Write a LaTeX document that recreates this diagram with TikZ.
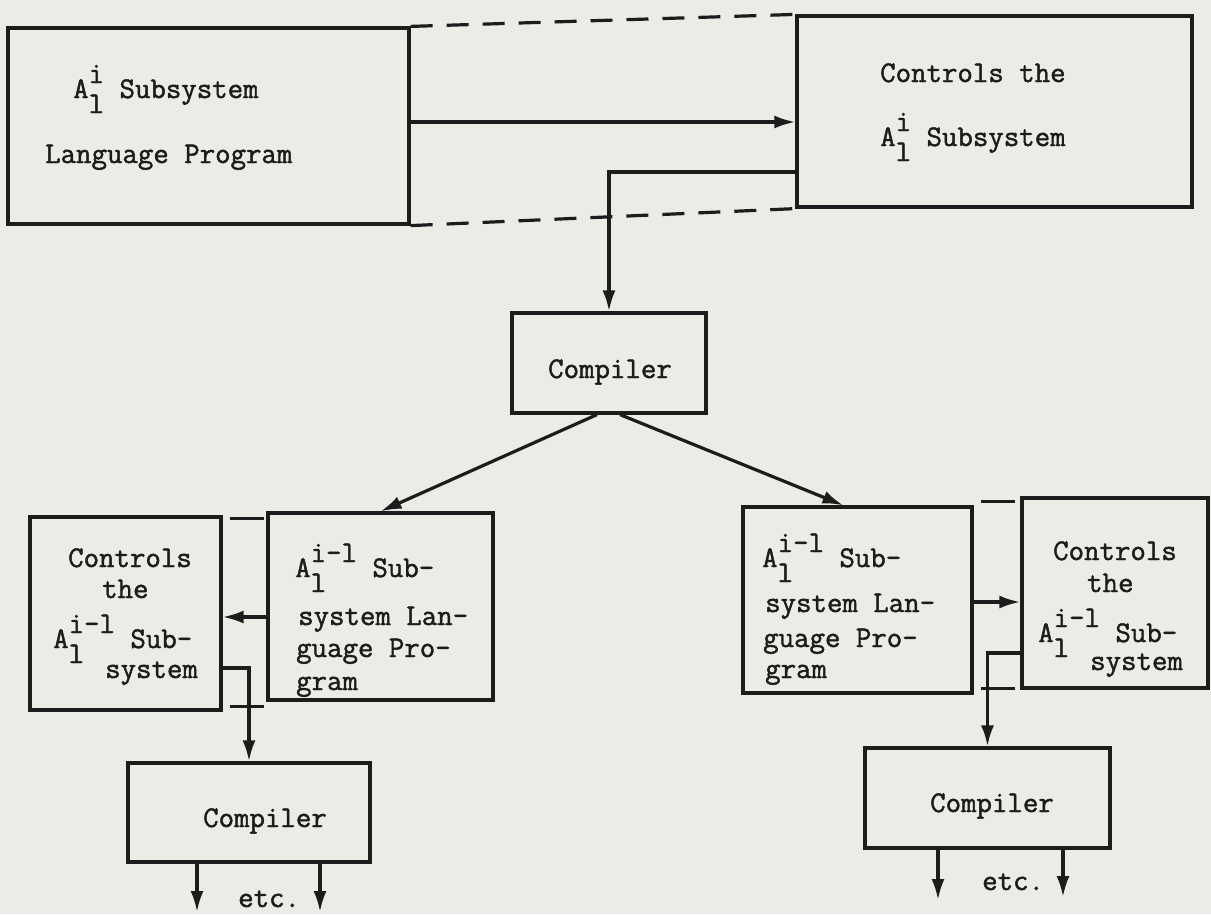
\documentclass[tikz,border=0pt]{standalone}
\usepackage{fontspec}
\usetikzlibrary{arrows.meta,calc}
\definecolor{paper}{RGB}{235,236,229}
\definecolor{ink}{RGB}{28,28,28}
\newfontfamily\typewriter{Latin Modern Mono}[FakeBold=1.5]
% A with stacked superscript and subscript l, typed at full size
\newcommand{\Aop}[1]{A\rlap{\raisebox{-0.5em}{l}}\raisebox{0.5em}{#1}}
\begin{document}
\begin{tikzpicture}[x=1pt,y=-1pt,
  box/.style={draw=ink, line width=3.2pt, inner sep=0pt},
  arr/.style={draw=ink, line width=3.2pt, -{Latex[length=21pt,width=13pt]}},
  dashline/.style={draw=ink, line width=3.2pt, dash pattern=on 22pt off 14pt},
  gapdash/.style={draw=ink, line width=3.2pt, dash pattern=on 0pt off 7pt on 34pt off 100pt},
  txt/.style={anchor=base west, inner sep=0pt, text=ink, font=\typewriter\fontsize{30}{36}\selectfont}]
\fill[paper] (0,0) rectangle (1211,914);
\useasboundingbox (0,0) rectangle (1211,914);

% boxes
\node[box, minimum width=401pt, minimum height=196pt] (tl)  at (208.5,126) {};
\node[box, minimum width=395pt, minimum height=191pt] (tr)  at (994.5,111.5) {};
\node[box, minimum width=194pt, minimum height=100pt] (c0)  at (609,363) {};
\node[box, minimum width=191pt, minimum height=193pt] (blc) at (125.5,613.5) {};
\node[box, minimum width=225pt, minimum height=187pt] (blp) at (380.5,606.5) {};
\node[box, minimum width=242pt, minimum height=99pt]  (c1)  at (249,812.5) {};
\node[box, minimum width=229pt, minimum height=186pt] (brp) at (857.5,600) {};
\node[box, minimum width=186pt, minimum height=190pt] (brc) at (1115,593) {};
\node[box, minimum width=245pt, minimum height=100pt] (c2)  at (987.5,798) {};

% texts
\node[txt] (tl1) at (73,98)  {\Aop{i} Subsystem};
\node[txt] (tl2) at (45,163) {Language Program};
\node[txt] (tr1) at (880,82)  {Controls the};
\node[txt] (tr2) at (880,146) {\Aop{i} Subsystem};
\node[txt] (c0t) at (548,378) {Compiler};

\node[txt] (blc1) at (68,567)  {Controls};
\node[txt] (blc2) at (102,598) {the};
\node[txt] (blc3) at (53,648)  {\Aop{i-l} Sub-};
\node[txt] (blc4) at (105,678) {system};
\node[txt] (blp1) at (295,577) {\Aop{i-l} Sub-};
\node[txt] (blp2) at (298,625) {system Lan-};
\node[txt] (blp3) at (296,657) {guage Pro-};
\node[txt] (blp4) at (296,690) {gram};
\node[txt] (c1t) at (203,827) {Compiler};
\node[txt] (etc1) at (238,907) {etc.};

\node[txt] (brp1) at (762,567) {\Aop{i-l} Sub-};
\node[txt] (brp2) at (765,612) {system Lan-};
\node[txt] (brp3) at (763,647) {guage Pro-};
\node[txt] (brp4) at (765,678) {gram};
\node[txt] (brc1) at (1053,560) {Controls};
\node[txt] (brc2) at (1087,592) {the};
\node[txt] (brc3) at (1038,642) {\Aop{i-l} Sub-};
\node[txt] (brc4) at (1090,670) {system};
\node[txt] (c2t) at (930,812) {Compiler};
\node[txt] (etc2) at (982,890) {etc.};

% dashed ties between paired boxes
\draw[dashline] (tl.north east) -- (tr.north west);
\draw[dashline] (tl.south east) -- (tr.south west);
\coordinate (d1) at ($(blc.north east)+(0,3)$);
\coordinate (d2) at ($(blc.south east)+(0,-5)$);
\draw[gapdash] (d1) -- (d1 -| blp.west);
\draw[gapdash] (d2) -- (d2 -| blp.west);
\coordinate (d3) at ($(brp.north east)+(0,-4)$);
\coordinate (d4) at ($(brp.south east)+(0,-6)$);
\draw[gapdash] (d3) -- (d3 -| brc.west);
\draw[gapdash] (d4) -- (d4 -| brc.west);

% top level
\coordinate (a0) at ($(tl.east)+(0,-4)$);
\draw[arr] (a0) -- (a0 -| tr.west);
\coordinate (b0) at ($(tr.west)+(0,60.5)$);
\draw[arr] (b0) -| (c0.north);
\draw[arr] ([xshift=-12pt]c0.south) -- (blp.north);
\draw[arr] ([xshift=11pt]c0.south) -- ([xshift=-14pt]brp.north);

% lower left
\coordinate (a1) at ($(blp.west)+(0,10.5)$);
\draw[arr] (a1) -- (a1 -| blc.east);
\coordinate (b1) at ($(blc.east)+(0,54.5)$);
\draw[arr] (b1) -| (c1.north);
\coordinate (e1) at (197,912);
\coordinate (e2) at (320,912);
\draw[arr] (c1.south -| e1) -- (e1);
\draw[arr] (c1.south -| e2) -- (e2);

% lower right
\coordinate (a2) at ($(brp.east)+(0,2)$);
\draw[arr] (a2) -- (a2 -| brc.west);
\coordinate (b2) at ($(brc.west)+(0,60)$);
\draw[arr] (b2) -| (c2.north);
\coordinate (e3) at (938,900);
\coordinate (e4) at (1063,897);
\draw[arr] (c2.south -| e3) -- (e3);
\draw[arr] (c2.south -| e4) -- (e4);
\end{tikzpicture}
\end{document}
